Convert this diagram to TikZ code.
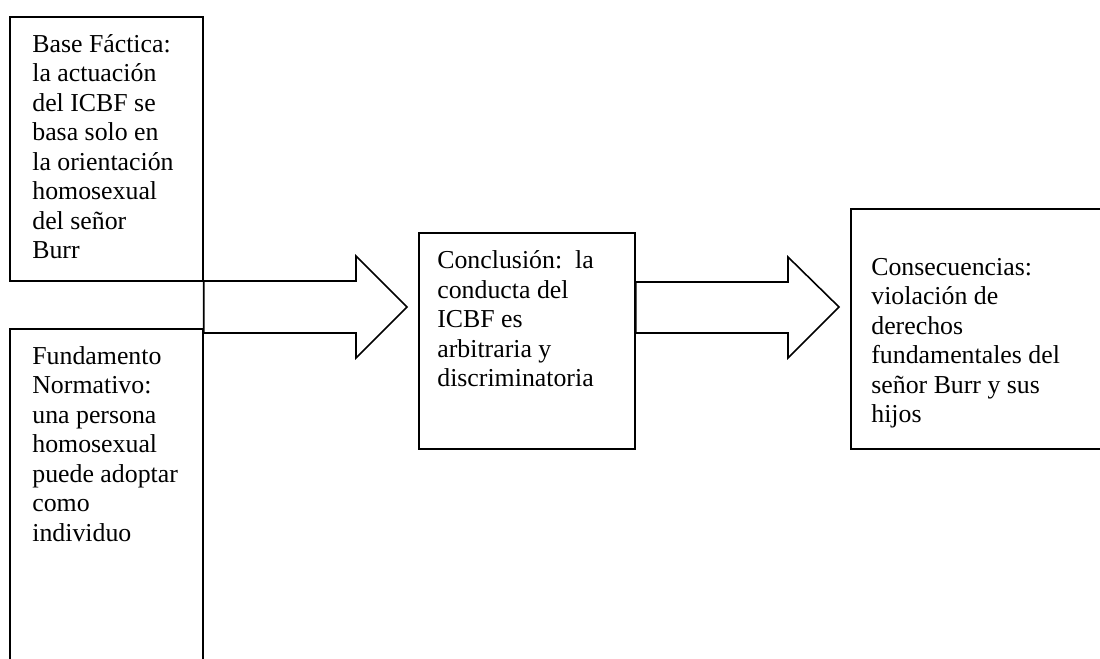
\documentclass[tikz,border=0pt]{standalone}
\usepackage{fontspec}
\setmainfont{Liberation Serif}
\usetikzlibrary{positioning}

\tikzset{
  box/.style={draw=black, line width=1pt, inner sep=0pt, anchor=north west},
  boxtext/.style={inner sep=0pt, anchor=base west, align=left,
    font=\fontsize{14.7pt}{16.75pt}\selectfont},
  blockarrow/.style={draw=black, line width=0.9pt, line join=miter}
}

\begin{document}
\begin{tikzpicture}[x=0.02cm, y=-0.02cm]
  \useasboundingbox (0,0) rectangle (1100,659);
  \clip (0,0) rectangle (1100,659);
  % boxes
  \node[box, minimum width=193*0.02cm, minimum height=264*0.02cm] (base) at (9,16) {};
  \node[box, minimum width=193*0.02cm, minimum height=372*0.02cm] (norma) at (9,328) {};
  \node[box, minimum width=216*0.02cm, minimum height=216*0.02cm] (concl) at (418,232) {};
  \node[box, minimum width=300*0.02cm, minimum height=240*0.02cm] (conse) at (850,208) {};
  % texts (placed at the baseline of their last line)
  \node[boxtext] (baset) at (32,258.5) {Base Fáctica:\\la actuación\\del ICBF se\\basa solo en\\la orientación\\homosexual\\del señor\\Burr};
  \node[boxtext] (normat) at (32,541) {Fundamento\\Normativo:\\una persona\\homosexual\\puede adoptar\\como\\individuo};
  \node[boxtext] (conclt) at (437,386.5) {Conclusión:\ \ la\\conducta del\\ICBF es\\arbitraria y\\discriminatoria};
  \node[boxtext] (conset) at (871,422.5) {Consecuencias:\\violación de\\derechos\\fundamentales del\\señor Burr y sus\\hijos};
  % block arrows
  \coordinate (tipa) at (407,307);
  \coordinate (tipb) at (839,307);
  \draw[blockarrow] (base.east |- 0,281) -- (356,281) -- (356,256) -- (tipa)
    -- (356,358) -- (356,333) -- (base.east |- 0,333) -- cycle;
  \draw[blockarrow] (concl.east |- 0,282) -- (788,282) -- (788,257) -- (tipb)
    -- (788,358) -- (788,333) -- (concl.east |- 0,333) -- cycle;
\end{tikzpicture}
\end{document}
